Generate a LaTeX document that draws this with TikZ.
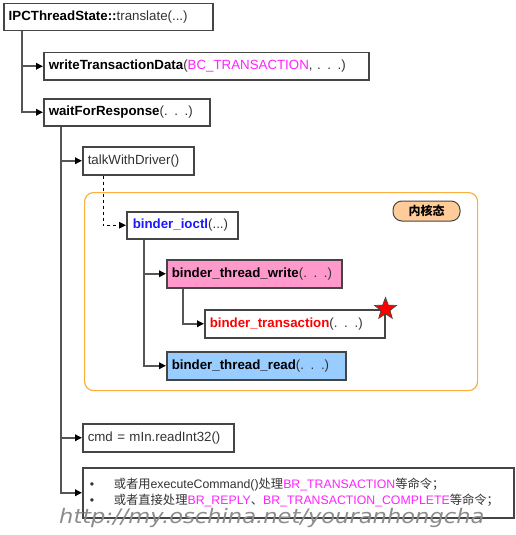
\documentclass[tikz,border=0pt]{standalone}
\usepackage{fontspec}
\setmainfont{Liberation Sans}
\newfontfamily\cjk{Noto Sans CJK SC}
\newfontfamily\wmfont{DejaVu Sans}
\usetikzlibrary{arrows.meta,calc,shapes.geometric}
\definecolor{txt}{HTML}{333333}
\definecolor{bdr}{HTML}{454545}
\definecolor{lnk}{HTML}{555555}
\definecolor{mag}{HTML}{FF22FF}
\definecolor{blu}{HTML}{1A1AFF}
\definecolor{pinkfill}{HTML}{FF99CC}
\definecolor{bluefill}{HTML}{99CCFF}
\definecolor{orng}{HTML}{FBB040}
\definecolor{lblfill}{HTML}{FFCC99}
\tikzset{
  box/.style={draw=bdr, line width=1.5pt, fill=white, anchor=north west, align=left,
    inner xsep=5pt, inner ysep=0pt, minimum height=27pt, text=txt,
    font=\fontsize{13.3}{15}\selectfont},
  conn/.style={draw=lnk, line width=1.7pt, -{Triangle[length=7pt,width=6.5pt,color=black]}},
  dconn/.style={draw=black, line width=0.9pt, dashed, -{Triangle[length=7pt,width=6.5pt,color=black]}},
  kernel/.style={draw=orng, line width=1.2pt, rounded corners=9pt, anchor=north west, inner sep=0pt},
  lbl/.style={draw=bdr, line width=1pt, fill=lblfill, rounded corners=9pt, inner sep=0pt,
    minimum width=67pt, minimum height=20pt},
}
\newcommand{\bd}[1]{\textcolor{black}{\bfseries #1}}
\begin{document}
\begin{tikzpicture}[x=1pt,y=-1pt]
\useasboundingbox (0,0) rectangle (515,535);
\fill[white] (0,0) rectangle (515,535);
% kernel region
\node[kernel, minimum width=393pt, minimum height=198pt] (kernel) at (84,192) {};
\node[lbl] (klabel) at (426.5,211) {\cjk\bfseries\fontsize{12}{14}\selectfont 内核态};
% boxes
\node[box, text width=199pt] (ipc) at (3,3) {\bd{IPCThreadState::}translate(...)};
\node[box, text width=315pt] (wtd) at (43,52) {\bd{writeTransactionData}(\textcolor{mag}{BC\_TRANSACTION}, . . .)};
\node[box, text width=156pt] (wfr) at (43,98) {\bd{waitForResponse}(. . .)};
\node[box, text width=101pt, minimum height=28pt] (talk) at (82,146) {talkWithDriver()};
\node[box, text width=99pt, inner xsep=6pt] (ioctl) at (126,211) {\textcolor{blu}{\bfseries binder\_ioctl}(...)};
\node[box, text width=165pt, fill=pinkfill, minimum height=28pt] (write) at (166,259) {\bd{binder\_thread\_write}(. . .)};
\node[box, text width=170pt, minimum height=28pt] (trans) at (204,309) {\textcolor{red}{\bfseries binder\_transaction}(. . .)};
\node[box, text width=169pt, fill=bluefill, minimum height=28pt] (read) at (166,351) {\bd{binder\_thread\_read}(. . .)};
\node[box, text width=141pt, minimum height=28pt] (cmd) at (82,423) {cmd = mIn.readInt32()};
\node[box, text width=419pt, inner xsep=6pt, minimum height=50pt,
  font=\fontsize{12.3}{16}\selectfont] (handle) at (82,467)
  {\makebox[25pt][l]{\hspace{1pt}\textbullet}{\cjk 或者用}executeCommand(){\cjk 处理}\textcolor{mag}{BR\_TRANSACTION}{\cjk 等命令；}\\
   \makebox[25pt][l]{\hspace{1pt}\textbullet}{\cjk 或者直接处理}\textcolor{mag}{BR\_REPLY}{\cjk 、}\textcolor{mag}{BR\_TRANSACTION\_COMPLETE}{\cjk 等命令；}};
\node[star, star points=5, star point ratio=2.4, fill=red, draw=bdr, line width=0.7pt,
  minimum size=23pt, inner sep=0pt] (star) at (trans.north east) {};
% connectors
\coordinate (ipcroot) at ($(ipc.south west)+(19,0)$);
\draw[conn] (ipcroot) |- (wtd.west);
\draw[conn] (ipcroot) |- (wfr.west);
\coordinate (wfrroot) at ($(wfr.south west)+(18,0)$);
\draw[conn] (wfrroot) |- (talk.west);
\draw[conn] (wfrroot) |- (cmd.west);
\draw[conn] (wfrroot) |- (handle.west);
\coordinate (talkroot) at ($(talk.south west)+(21,0)$);
\draw[dconn] (talkroot) |- (ioctl.west);
\coordinate (ioctlroot) at ($(ioctl.south west)+(18,0)$);
\draw[conn] (ioctlroot) |- (write.west);
\draw[conn] (ioctlroot) |- (read.west);
\coordinate (writeroot) at ($(write.south west)+(17,0)$);
\draw[conn] (writeroot) |- (trans.west);
% watermark
\node[anchor=base west, inner sep=0pt, text=black!45, font=\wmfont\itshape\fontsize{20}{20}\selectfont] (wm) at (59,523) {\scalebox{1.13}[1]{http://my.oschina.net/youranhongcha}};
\end{tikzpicture}
\end{document}
